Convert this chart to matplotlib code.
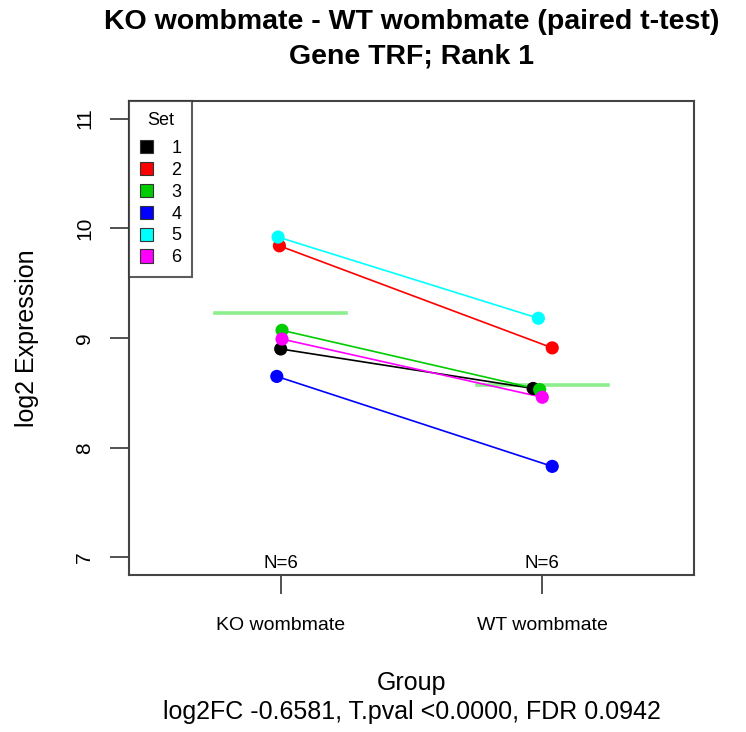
import matplotlib.pyplot as plt
from matplotlib.patches import Patch

plt.rcParams['font.family'] = ['Liberation Sans', 'DejaVu Sans']

groups = ['KO wombmate', 'WT wombmate']
sets = ['1', '2', '3', '4', '5', '6']
set_colors = ['black', '#FF0000', '#00CD00', '#0000FF', '#00FFFF', '#FF00FF']
ko_values = [8.90, 9.84, 9.07, 8.65, 9.92, 8.99]
wt_values = [8.54, 8.91, 8.53, 7.83, 9.18, 8.46]
# small horizontal jitter
ko_jitter = [0.00, -0.005, 0.005, -0.015, -0.01, 0.005]
wt_jitter = [-0.035, 0.038, -0.01, 0.038, -0.015, 0.0]
counts = [6, 6]

fig = plt.figure(figsize=(7.46, 7.32), dpi=100)
ax = fig.add_axes([129/746, 1 - 575/732, (694-129)/746, (575-101)/732])
xc = (129 + 694) / 2 / 746  # centre of plot region, titles are centred on it

for i in range(len(sets)):
    xs = [1 + ko_jitter[i], 2 + wt_jitter[i]]
    ys = [ko_values[i], wt_values[i]]
    ax.plot(xs, ys, color=set_colors[i], lw=1.2, zorder=3)
    ax.scatter(xs, ys, color=set_colors[i], s=90, zorder=4, edgecolor='none')

# group means
means = [sum(ko_values) / len(ko_values), sum(wt_values) / len(wt_values)]
for k, m in enumerate(means):
    ax.plot([k + 1 - 0.25, k + 1 + 0.25], [m, m], color='#8CEE8C', lw=2.6, zorder=2)

for k, n in enumerate(counts):
    ax.text(k + 1, 6.87, 'N=%d' % n, ha='center', va='bottom', fontsize=13.5)

ax.set_xlim(0.42, 2.58)
ax.set_ylim(6.84, 11.16)
ax.set_xticks([1, 2])
ax.set_xticklabels(groups, fontsize=14)
ax.set_yticks([7, 8, 9, 10, 11])
ax.set_yticklabels(['7', '8', '9', '10', '11'], fontsize=15, rotation=90, va='center')
ax.tick_params(axis='both', length=14, width=1.2, color='#333333')
ax.tick_params(axis='x', pad=16)
ax.tick_params(axis='y', pad=11)
for s in ax.spines.values():
    s.set_linewidth(1.5)
    s.set_color('#444444')

ax.set_ylabel('log2 Expression', fontsize=18)
ax.yaxis.set_label_coords((39 - 129) / 565, 0.5)

handles = [Patch(facecolor=c, edgecolor='#333333', lw=0.8) for c in set_colors]
leg = ax.legend(handles, sets, title='Set', loc='upper left', bbox_to_anchor=(0, 1),
                borderaxespad=0, fancybox=False, edgecolor='#333333', fontsize=13,
                title_fontsize=13, handlelength=0.75, handleheight=0.75,
                handletextpad=1.0, labelspacing=0.27, borderpad=0.6)
leg.get_frame().set_linewidth(1.5)
leg._legend_box.sep = 8

fig.text(xc, 1 - 22/732, 'KO wombmate - WT wombmate (paired t-test)',
         ha='center', va='center', fontsize=20.5, fontweight='bold')
fig.text(xc, 1 - 56/732, 'Gene TRF; Rank 1',
         ha='center', va='center', fontsize=20.5, fontweight='bold')
fig.text(xc, 1 - 683/732, 'Group', ha='center', va='center', fontsize=18)
fig.text(xc, 1 - 712/732, 'log2FC -0.6581, T.pval <0.0000, FDR 0.0942',
         ha='center', va='center', fontsize=18)

plt.savefig('out.png', dpi=100)
